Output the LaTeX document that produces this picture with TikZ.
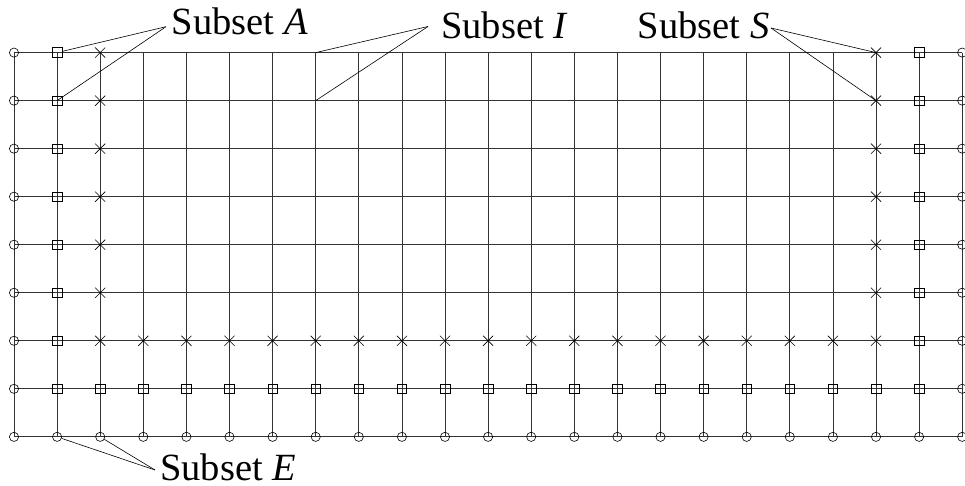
\documentclass[tikz,border=0pt]{standalone}
\usepackage{fontspec}
\setmainfont{Liberation Serif}
\usetikzlibrary{shapes.misc}
\begin{document}
\begin{tikzpicture}[x=1pt,y=-1pt,
  gridline/.style={line width=0.8pt, black!80},
  callout/.style={line width=0.6pt, black},
  circmark/.style={circle, draw, line width=0.6pt, minimum size=9.2pt, inner sep=0pt},
  sqmark/.style={rectangle, draw, line width=0.6pt, minimum size=9.6pt, inner sep=0pt},
  crossmark/.style={cross out, draw, line width=0.6pt, minimum size=9.5pt, inner sep=0pt},
  lbl/.style={inner sep=0pt, font=\fontsize{38.5}{40}\selectfont}]
\useasboundingbox (0,0) rectangle (965,486);
% grid points
\foreach \i in {0,...,22}{
  \foreach \j in {0,...,8}{
    \coordinate (g-\i-\j) at ({14+43.1*\i},{52.6+48.03*\j});
  }
}
% grid lines
\foreach \j in {0,...,8}{ \draw[gridline] (g-0-\j) -- (g-22-\j); }
\foreach \i in {0,...,22}{ \draw[gridline] (g-\i-0) -- (g-\i-8); }
% circles (subset E)
\foreach \j in {0,...,8}{
  \node[circmark] (m-0-\j) at (g-0-\j) {};
  \node[circmark] (m-22-\j) at (g-22-\j) {};
}
\foreach \i in {1,...,21}{ \node[circmark] (m-\i-8) at (g-\i-8) {}; }
% squares (subset A)
\foreach \j in {0,...,7}{
  \node[sqmark] (m-1-\j) at (g-1-\j) {};
  \node[sqmark] (m-21-\j) at (g-21-\j) {};
}
\foreach \i in {2,...,20}{ \node[sqmark] (m-\i-7) at (g-\i-7) {}; }
% crosses (subset S)
\foreach \j in {0,...,6}{
  \node[crossmark] (m-2-\j) at (g-2-\j) {};
  \node[crossmark] (m-20-\j) at (g-20-\j) {};
}
\foreach \i in {3,...,19}{ \node[crossmark] (m-\i-6) at (g-\i-6) {}; }
% labels
\node[lbl, anchor=base west] (labA) at (171.5,35) {Subset \textit{A}};
\node[lbl, anchor=base west] (labI) at (441,38.3) {Subset \textit{I}};
\node[lbl, anchor=base east] (labS) at (769.5,38.3) {Subset \textit{S}};
\node[lbl, anchor=base west] (labE) at (160,480) {Subset \textit{E}};
\coordinate (cA) at (166,26.7);
\coordinate (cI) at (428,26.5);
\coordinate (cS) at (771,28);
\coordinate (cE) at (155,470);
% callouts
\draw[callout] (cA) -- (m-1-0);
\draw[callout] (cA) -- (g-1-1);
\draw[callout] (cI) -- (g-7-0);
\draw[callout] (cI) -- (g-7-1);
\draw[callout] (cS) -- (g-20-0);
\draw[callout] (cS) -- (g-20-1);
\draw[callout] (cE) -- (m-1-8);
\draw[callout] (cE) -- (m-2-8);
\end{tikzpicture}
\end{document}
